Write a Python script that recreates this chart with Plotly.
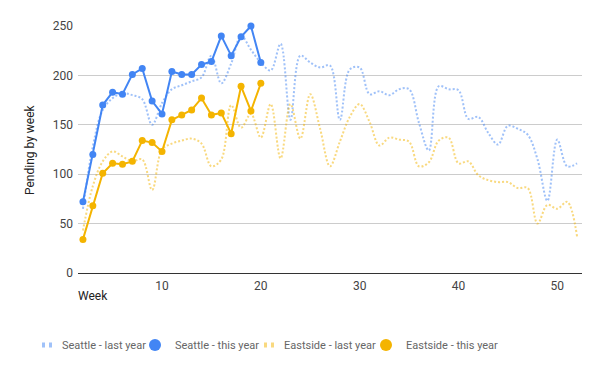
import plotly.graph_objects as go

weeks_last = list(range(2, 53))
seattle_last = [65, 128, 165, 177, 182, 180, 176, 150, 172, 186, 190, 194, 198, 220, 192, 212, 240,
                226, 213, 205, 232, 155, 220, 213, 208, 210, 155, 206, 208, 181, 184, 180, 186, 186,
                152, 124, 189, 186, 185, 156, 158, 142, 130, 149, 146, 140, 115, 73, 135, 108, 111]
eastside_last = [43, 88, 113, 123, 118, 113, 115, 84, 125, 131, 134, 136, 131, 108, 115, 170, 147,
                 161, 137, 171, 116, 171, 136, 181, 146, 108, 133, 158, 171, 153, 129, 137, 135, 133,
                 108, 112, 134, 137, 111, 113, 99, 94, 92, 92, 86, 86, 50, 69, 65, 72, 37]
weeks_this = list(range(2, 21))
seattle_this = [72, 120, 170, 183, 181, 201, 207, 174, 161, 204, 201, 201, 211, 214, 240, 220, 239, 250, 213]
eastside_this = [34, 68, 101, 111, 110, 113, 134, 132, 123, 155, 160, 165, 177, 160, 162, 141, 189, 164, 192]

x_ticks = [10, 20, 30, 40, 50]
y_ticks = [0, 50, 100, 150, 200, 250]

BLUE = "#4285F4"
ORANGE = "#F4B400"
FONT = "Roboto"

fig = go.Figure()

fig.add_trace(go.Scatter(x=weeks_last, y=seattle_last, mode="lines", name="Seattle - last year",
                         line=dict(color=BLUE, width=2, dash="2px,2px", shape="spline", smoothing=1),
                         opacity=0.5, showlegend=False))
fig.add_trace(go.Scatter(x=weeks_last, y=eastside_last, mode="lines", name="Eastside - last year",
                         line=dict(color=ORANGE, width=2, dash="2px,2px", shape="spline", smoothing=1),
                         opacity=0.5, showlegend=False))
fig.add_trace(go.Scatter(x=weeks_this, y=seattle_this, mode="lines+markers", name="Seattle - this year",
                         line=dict(color=BLUE, width=2), marker=dict(size=7, color=BLUE),
                         showlegend=False, cliponaxis=False))
fig.add_trace(go.Scatter(x=weeks_this, y=eastside_this, mode="lines+markers", name="Eastside - this year",
                         line=dict(color=ORANGE, width=2), marker=dict(size=7, color=ORANGE),
                         showlegend=False, cliponaxis=False))

# legend entries (one legend box each, to place them like the reference)
leg_dash = "0px,15px,3px,4px,3px,100px"
fig.add_trace(go.Scatter(x=[None], y=[None], mode="lines", name="Seattle - last year",
                         line=dict(color=BLUE, width=3, dash=leg_dash), opacity=0.5, legend="legend"))
fig.add_trace(go.Scatter(x=[None], y=[None], mode="markers", name="Seattle - this year",
                         marker=dict(size=11, color=BLUE), legend="legend2"))
fig.add_trace(go.Scatter(x=[None], y=[None], mode="lines", name="Eastside - last year",
                         line=dict(color=ORANGE, width=3, dash=leg_dash), opacity=0.5, legend="legend3"))
fig.add_trace(go.Scatter(x=[None], y=[None], mode="markers", name="Eastside - this year",
                         marker=dict(size=11, color=ORANGE), legend="legend4"))

W, H = 600, 371
L, R, T, B = 78, 18, 26, 98
pw = W - L - R
ph = H - T - B


def px_x(p):
    return (p - L) / pw


def px_y(p):
    return (H - B - p) / ph


leg_common = dict(orientation="h", yanchor="middle", xanchor="left", xref="container", yref="container",
                  y=(H - 345) / H,
                  font=dict(family=FONT, size=11, color="#666666"),
                  bgcolor="rgba(0,0,0,0)", borderwidth=0, itemsizing="constant")

fig.update_layout(
    width=W, height=H,
    margin=dict(l=L, r=R, t=T, b=B, autoexpand=False),
    paper_bgcolor="white", plot_bgcolor="white",
    font=dict(family=FONT, size=12, color="#666666"),
    showlegend=True,
    legend=dict(x=22 / W, **leg_common),
    legend2=dict(x=135 / W, **leg_common),
    legend3=dict(x=244 / W, **leg_common),
    legend4=dict(x=366 / W, **leg_common),
    xaxis=dict(range=[1.5, 52.5], tickvals=x_ticks, ticktext=[str(v) for v in x_ticks],
               showgrid=False, zeroline=False, showline=False, ticks="",
               tickfont=dict(family=FONT, size=12, color="#444444"), ticklabelstandoff=4),
    yaxis=dict(range=[0, 250], tickvals=y_ticks, showgrid=True, gridcolor="#cccccc", gridwidth=1,
               zeroline=True, zerolinecolor="#333333", zerolinewidth=1, showline=False, ticks="",
               tickfont=dict(family=FONT, size=12, color="#444444"), ticklabelstandoff=4),
    annotations=[
        dict(text="Week", xref="paper", yref="paper", x=px_x(76), y=px_y(296), xanchor="left",
             yanchor="middle", showarrow=False, font=dict(family=FONT, size=12, color="#222222")),
        dict(text="Pending by week", xref="paper", yref="paper", x=px_x(30), y=px_y(150),
             xanchor="center", yanchor="middle", textangle=-90, showarrow=False,
             font=dict(family=FONT, size=12, color="#222222")),
    ],
)

fig.write_html("out.html", config={"displayModeBar": False},
               post_script="document.body.style.margin='0';")
